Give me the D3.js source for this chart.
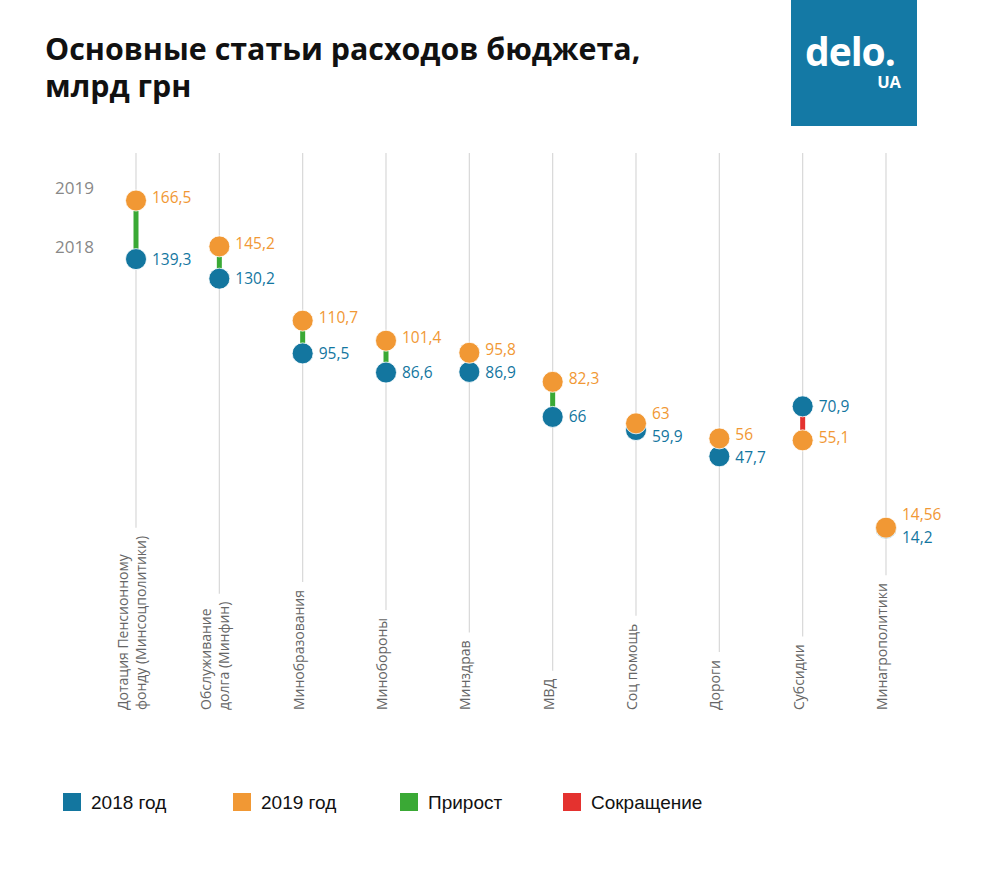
<!DOCTYPE html>
<html><head><meta charset="utf-8">
<script src="https://cdn.jsdelivr.net/npm/d3@7"></script>
<style>body{margin:0;background:#fff}svg{display:block}</style>
</head><body>
<svg id="c" width="1000" height="872"></svg>
<script>
const categories = [
  ["Дотация Пенсионному","фонду (Минсоцполитики)"],
  ["Обслуживание","долга (Минфин)"],
  ["Минобразования"],
  ["Минобороны"],
  ["Минздрав"],
  ["МВД"],
  ["Соц помощь"],
  ["Дороги"],
  ["Субсидии"],
  ["Минагрополитики"]
];
const values2018 = [139.3, 130.2, 95.5, 86.6, 86.9, 66, 59.9, 47.7, 70.9, 14.2];
const values2019 = [166.5, 145.2, 110.7, 101.4, 95.8, 82.3, 63, 56, 55.1, 14.56];
const yearLabels = ["2018", "2019"];
const legendLabels = ["2018 год", "2019 год", "Прирост", "Сокращение"];
const titleLines = ["Основные статьи расходов бюджета,", "млрд грн"];

const C = {blue:"#13769f", orange:"#f19834", green:"#3aa935", red:"#e4322f", grid:"#d8d8d8"};
const svg = d3.select("#c");
const keys = categories.map((d,i)=>i);
const x = d3.scalePoint().domain(keys).range([136, 886]);
const y = d3.scaleLinear().domain([0, 170]).range([559, 193]);
const fmt = v => String(v).replace(".", ",");

// title
svg.append("g").selectAll("text").data(titleLines).join("text")
  .attr("x", 45).attr("y", (d,i)=>60+i*37)
  .attr("font-family","Open Sans").attr("font-weight",700).attr("font-size",30.4)
  .attr("fill","#111").text(d=>d);

// logo
const logo = svg.append("g");
logo.append("rect").attr("x",791).attr("y",0).attr("width",126).attr("height",126).attr("fill","#1479a5");
logo.append("text").attr("x",805).attr("y",66).attr("font-family","Open Sans").attr("font-weight",700)
  .attr("font-size",39).attr("fill","#fff").attr("letter-spacing",-1).text("delo.");
logo.append("text").attr("x",901).attr("y",88).attr("text-anchor","end").attr("font-family","Open Sans").attr("font-weight",700)
  .attr("font-size",16.5).attr("fill","#fff").text("UA");

// category labels
const labelBottom = 710;
const labG = svg.append("g");
const labels = labG.selectAll("g").data(keys).join("g")
  .attr("transform", i=>`translate(${x(i)},${labelBottom}) rotate(-90)`);
labels.each(function(i){
  const lines = categories[i];
  const n = lines.length;
  d3.select(this).selectAll("text").data(lines).join("text")
    .attr("x",0).attr("y",(d,j)=> (j-(n-1)/2)*18 + 1)
    .attr("text-anchor","start")
    .attr("font-family","Open Sans").attr("font-size",14).attr("fill","#666")
    .text(d=>d);
});
// grid lines ending above labels
const tops = keys.map(i=>{
  let maxLen = 0;
  labels.filter(k=>k===i).selectAll("text").each(function(){maxLen=Math.max(maxLen,this.getComputedTextLength());});
  return labelBottom - maxLen - 8;
});
svg.insert("g", ":first-child").selectAll("line").data(keys).join("line")
  .attr("x1",i=>x(i)).attr("x2",i=>x(i)).attr("y1",153).attr("y2",i=>tops[i])
  .attr("stroke",C.grid).attr("stroke-width",1.2);

// connectors
svg.append("g").selectAll("line").data(keys).join("line")
  .attr("x1",i=>x(i)).attr("x2",i=>x(i))
  .attr("y1",i=>y(values2018[i])).attr("y2",i=>y(values2019[i]))
  .attr("stroke",i=>values2019[i]>=values2018[i]?C.green:C.red).attr("stroke-width",5);

// dots
svg.append("g").selectAll("circle").data(keys).join("circle")
  .attr("cx",i=>x(i)).attr("cy",i=>y(values2018[i])).attr("r",10.5)
  .attr("fill",C.blue).attr("stroke","#fff").attr("stroke-width",0.8);
svg.append("g").selectAll("circle").data(keys).join("circle")
  .attr("cx",i=>x(i)).attr("cy",i=>y(values2019[i])).attr("r",10.5)
  .attr("fill",C.orange).attr("stroke","#fff").attr("stroke-width",0.8);

// value labels with separation
const minSep = 20;
const lab = keys.map(i=>{
  let a = y(values2018[i]), b = y(values2019[i]);
  if (Math.abs(a-b) < minSep) {
    const m = (a+b)/2;
    if (a >= b) { a = m + minSep/2; b = m - minSep/2; }
    else { a = m - minSep/2; b = m + minSep/2; }
  }
  return {i, y18:a, y19:b};
});
const vg = svg.append("g").attr("font-family","Open Sans").attr("font-size",15.5);
vg.selectAll("text.v18").data(lab).join("text").attr("class","v18")
  .attr("x",d=>x(d.i)+16).attr("y",d=>d.y18).attr("dy","0.35em")
  .attr("fill",C.blue).text(d=>fmt(values2018[d.i]));
vg.selectAll("text.v19").data(lab).join("text").attr("class","v19")
  .attr("x",d=>x(d.i)+16).attr("y",d=>d.y19-3).attr("dy","0.35em")
  .attr("fill",C.orange).text(d=>fmt(values2019[d.i]));

// year labels
const yearVals = [values2018[0], values2019[0]];
svg.append("g").selectAll("text").data(yearLabels).join("text")
  .attr("x",55).attr("y",(d,i)=>y(yearVals[i])-12).attr("dy","0.35em")
  .attr("font-family","Open Sans").attr("font-size",17).attr("fill","#888").text(d=>d);

// legend
const legColors = [C.blue, C.orange, C.green, C.red];
const legX = [63, 233, 400, 563];
const lg = svg.append("g").selectAll("g").data(legendLabels).join("g")
  .attr("transform",(d,i)=>`translate(${legX[i]},793)`);
lg.append("rect").attr("width",18).attr("height",18).attr("fill",(d,i)=>legColors[i]);
lg.append("text").attr("x",28).attr("y",9).attr("dy","0.36em")
  .attr("font-family","Liberation Sans Narrow, Arial Narrow, sans-serif").attr("font-size",19).attr("fill","#111").text(d=>d);
</script>
</body></html>
